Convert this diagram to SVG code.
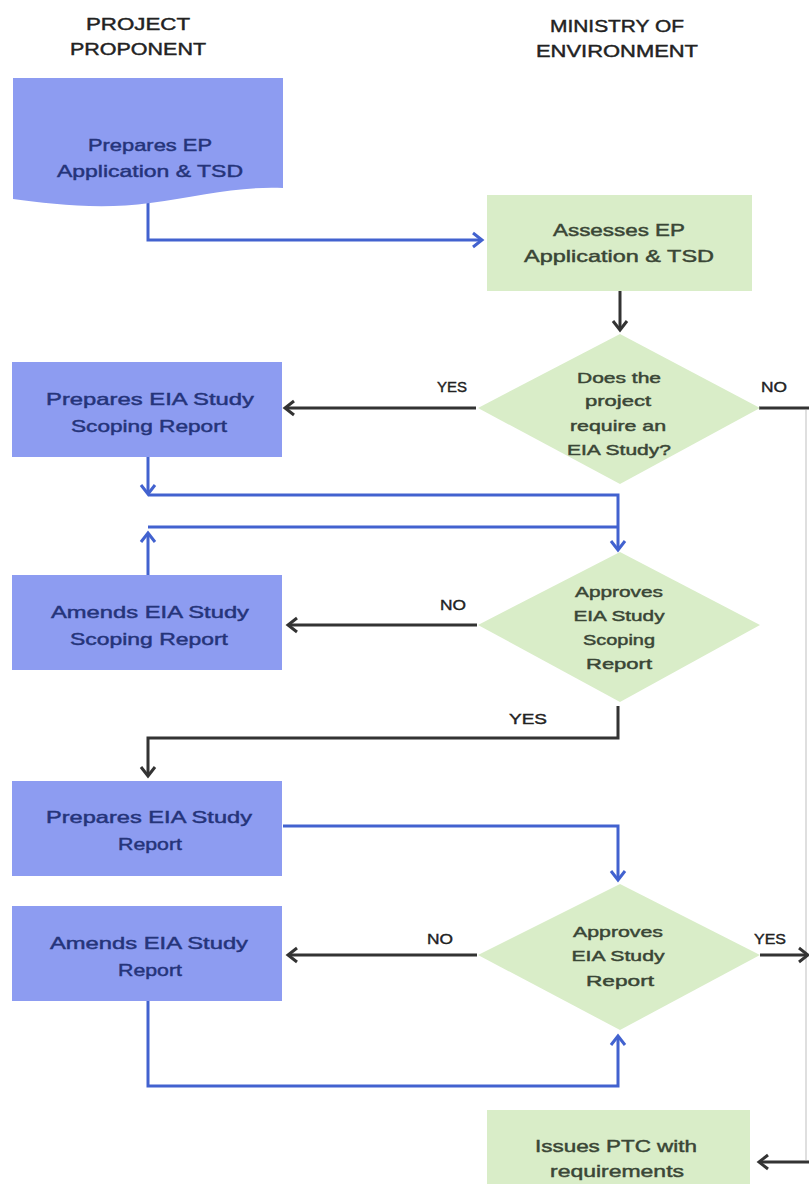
<svg xmlns="http://www.w3.org/2000/svg" width="809" height="1184" viewBox="0 0 809 1184">
<defs>
<marker id="ab" markerUnits="userSpaceOnUse" markerWidth="20" markerHeight="20" refX="10" refY="8" orient="auto" viewBox="0 0 20 16">
<path d="M1,1 L10,8 L1,15" fill="none" stroke="#4262cf" stroke-width="3"/>
</marker>
<marker id="ad" markerUnits="userSpaceOnUse" markerWidth="20" markerHeight="20" refX="10" refY="8" orient="auto" viewBox="0 0 20 16">
<path d="M1,1 L10,8 L1,15" fill="none" stroke="#333" stroke-width="3"/>
</marker>
<style>
.bl{fill:#8d9cf1}
.gr{fill:#d9edc8}
text{font-family:"Liberation Sans",Arial,sans-serif;text-anchor:middle}
.tb{font-size:17px;fill:#25347a;stroke:#25347a;stroke-width:0.45}
.tg{font-size:17px;fill:#3a4636;stroke:#3a4636;stroke-width:0.45}
.td{font-size:15px;fill:#3a4636;stroke:#3a4636;stroke-width:0.45}
.hd{font-size:16px;fill:#222;stroke:#222;stroke-width:0.4}
.lb{font-size:15px;fill:#222;stroke:#222;stroke-width:0.4}
.cb{fill:none;stroke:#4262cf;stroke-width:3}
.cd{fill:none;stroke:#333;stroke-width:3}
</style>
</defs>
<g id="headers">
<text class="hd" x="138" y="30" textLength="104" lengthAdjust="spacingAndGlyphs">PROJECT</text>
<text class="hd" x="138" y="55" textLength="136" lengthAdjust="spacingAndGlyphs">PROPONENT</text>
<text class="hd" x="617" y="32" textLength="134" lengthAdjust="spacingAndGlyphs">MINISTRY OF</text>
<text class="hd" x="617" y="57" textLength="162" lengthAdjust="spacingAndGlyphs">ENVIRONMENT</text>
</g>
<g id="connectors">
<path class="cb" d="M148,203 V240 H482" marker-end="url(#ab)"/>
<path class="cd" d="M620,291 V330" marker-end="url(#ad)"/>
<path class="cd" d="M476,408 H285" marker-end="url(#ad)"/>
<path class="cd" d="M759,408 H809"/>
<path d="M806,410 V1160" fill="none" stroke="#d4d4d4" stroke-width="1.5"/>
<path class="cb" d="M148,457 V494" marker-end="url(#ab)"/>
<path class="cb" d="M148,495 H618 V550" marker-end="url(#ab)"/>
<path class="cb" d="M148,575 V533" marker-end="url(#ab)"/>
<path class="cb" d="M148,527 H618"/>
<path class="cd" d="M477,625 H288" marker-end="url(#ad)"/>
<path class="cd" d="M618,706 V738 H148 V776" marker-end="url(#ad)"/>
<path class="cb" d="M283,826 H618 V880" marker-end="url(#ab)"/>
<path class="cd" d="M477,955 H288" marker-end="url(#ad)"/>
<path class="cd" d="M760,955 H808" marker-end="url(#ad)"/>
<path class="cb" d="M148,1001 V1086 H618 V1036" marker-end="url(#ab)"/>
<path class="cd" d="M809,1162 H759" marker-end="url(#ad)"/>
</g>
<g id="labels">
<text class="lb" x="452" y="392" textLength="30" lengthAdjust="spacingAndGlyphs">YES</text>
<text class="lb" x="774" y="392" textLength="26" lengthAdjust="spacingAndGlyphs">NO</text>
<text class="lb" x="453" y="610" textLength="26" lengthAdjust="spacingAndGlyphs">NO</text>
<text class="lb" x="528" y="724" textLength="38" lengthAdjust="spacingAndGlyphs">YES</text>
<text class="lb" x="440" y="944" textLength="26" lengthAdjust="spacingAndGlyphs">NO</text>
<text class="lb" x="770" y="944" textLength="32" lengthAdjust="spacingAndGlyphs">YES</text>
</g>
<g id="n1">
<path class="bl" d="M13,78 H283 V188 C240,186 200,196 150,203 C100,210 50,204 13,199 Z"/>
<text class="tb" x="150" y="151" textLength="124" lengthAdjust="spacingAndGlyphs">Prepares EP</text>
<text class="tb" x="150" y="177" textLength="186" lengthAdjust="spacingAndGlyphs">Application &amp; TSD</text>
</g>
<g id="n2">
<rect class="gr" x="487" y="195" width="265" height="96"/>
<text class="tg" x="619" y="236" textLength="132" lengthAdjust="spacingAndGlyphs">Assesses EP</text>
<text class="tg" x="619" y="262" textLength="190" lengthAdjust="spacingAndGlyphs">Application &amp; TSD</text>
</g>
<g id="n3">
<polygon class="gr" points="620,334 760,408 620,484 478,408"/>
<text class="td" x="619" y="383" textLength="84" lengthAdjust="spacingAndGlyphs">Does the</text>
<text class="td" x="618" y="406" textLength="66" lengthAdjust="spacingAndGlyphs">project</text>
<text class="td" x="618" y="431" textLength="96" lengthAdjust="spacingAndGlyphs">require an</text>
<text class="td" x="619" y="455" textLength="104" lengthAdjust="spacingAndGlyphs">EIA Study?</text>
</g>
<g id="n4">
<rect class="bl" x="12" y="362" width="270" height="95"/>
<text class="tb" x="150" y="405" textLength="208" lengthAdjust="spacingAndGlyphs">Prepares EIA Study</text>
<text class="tb" x="149" y="432" textLength="156" lengthAdjust="spacingAndGlyphs">Scoping Report</text>
</g>
<g id="n5">
<rect class="bl" x="12" y="575" width="270" height="95"/>
<text class="tb" x="150" y="618" textLength="198" lengthAdjust="spacingAndGlyphs">Amends EIA Study</text>
<text class="tb" x="149" y="645" textLength="158" lengthAdjust="spacingAndGlyphs">Scoping Report</text>
</g>
<g id="n6">
<polygon class="gr" points="620,552 760,625 620,702 478,625"/>
<text class="td" x="619" y="597" textLength="88" lengthAdjust="spacingAndGlyphs">Approves</text>
<text class="td" x="619" y="621" textLength="91" lengthAdjust="spacingAndGlyphs">EIA Study</text>
<text class="td" x="619" y="645" textLength="72" lengthAdjust="spacingAndGlyphs">Scoping</text>
<text class="td" x="619" y="669" textLength="66" lengthAdjust="spacingAndGlyphs">Report</text>
</g>
<g id="n7">
<rect class="bl" x="12" y="781" width="270" height="95"/>
<text class="tb" x="149" y="823" textLength="206" lengthAdjust="spacingAndGlyphs">Prepares EIA Study</text>
<text class="tb" x="150" y="850" textLength="64" lengthAdjust="spacingAndGlyphs">Report</text>
</g>
<g id="n8">
<rect class="bl" x="12" y="906" width="270" height="95"/>
<text class="tb" x="149" y="949" textLength="198" lengthAdjust="spacingAndGlyphs">Amends EIA Study</text>
<text class="tb" x="150" y="976" textLength="64" lengthAdjust="spacingAndGlyphs">Report</text>
</g>
<g id="n9">
<polygon class="gr" points="620,884 760,955 620,1030 478,955"/>
<text class="td" x="618" y="937" textLength="90" lengthAdjust="spacingAndGlyphs">Approves</text>
<text class="td" x="618" y="961" textLength="93" lengthAdjust="spacingAndGlyphs">EIA Study</text>
<text class="td" x="620" y="986" textLength="68" lengthAdjust="spacingAndGlyphs">Report</text>
</g>
<g id="n10">
<rect class="gr" x="487" y="1110" width="263" height="74"/>
<text class="tg" x="616" y="1152" textLength="162" lengthAdjust="spacingAndGlyphs">Issues PTC with</text>
<text class="tg" x="617" y="1177" textLength="134" lengthAdjust="spacingAndGlyphs">requirements</text>
</g>
</svg>
